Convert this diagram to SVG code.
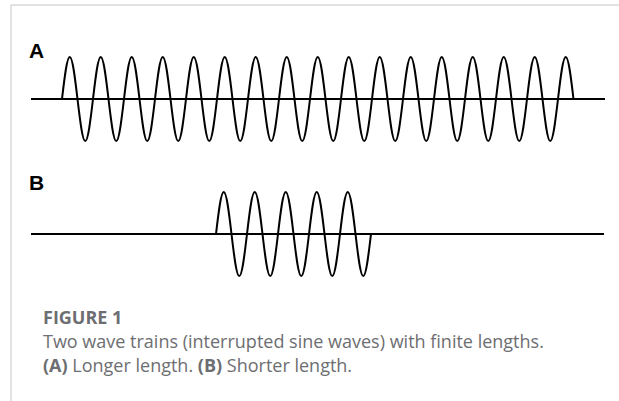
<svg xmlns="http://www.w3.org/2000/svg" width="619" height="401" viewBox="0 0 619 401">
<style>
.frame{stroke:#d9d9d9;stroke-width:1.5;fill:none}
.axis{stroke:#000;stroke-width:2;fill:none}
.wave{stroke:#000;stroke-width:2;fill:none;stroke-linejoin:round}
.lbl{font-family:"Liberation Sans",Arial,sans-serif;font-weight:bold;font-size:21px;fill:#000}
.cap{font-family:"Open Sans","Lato",sans-serif;font-size:18px;fill:#6d6e71}
.capb{font-weight:bold}
</style>
<rect width="619" height="401" fill="#fff"/>
<g id="frame">
<line class="frame" x1="11" y1="5" x2="619" y2="5"/>
<line class="frame" x1="11" y1="5" x2="11" y2="401"/>
</g>
<g id="panelA">
<text class="lbl" x="29" y="58">A</text>
<line class="axis" x1="31" y1="99" x2="605" y2="99"/>
<path class="wave" d="M62,99 c2.59,-22.05 4.96,-42 7.75,-42
s5.16,19.95 7.75,42 s4.96,42 7.75,42 s5.16,-19.95 7.75,-42 s4.96,-42 7.75,-42
s5.16,19.95 7.75,42 s4.96,42 7.75,42 s5.16,-19.95 7.75,-42 s4.96,-42 7.75,-42
s5.16,19.95 7.75,42 s4.96,42 7.75,42 s5.16,-19.95 7.75,-42 s4.96,-42 7.75,-42
s5.16,19.95 7.75,42 s4.96,42 7.75,42 s5.16,-19.95 7.75,-42 s4.96,-42 7.75,-42
s5.16,19.95 7.75,42 s4.96,42 7.75,42 s5.16,-19.95 7.75,-42 s4.96,-42 7.75,-42
s5.16,19.95 7.75,42 s4.96,42 7.75,42 s5.16,-19.95 7.75,-42 s4.96,-42 7.75,-42
s5.16,19.95 7.75,42 s4.96,42 7.75,42 s5.16,-19.95 7.75,-42 s4.96,-42 7.75,-42
s5.16,19.95 7.75,42 s4.96,42 7.75,42 s5.16,-19.95 7.75,-42 s4.96,-42 7.75,-42
s5.16,19.95 7.75,42 s4.96,42 7.75,42 s5.16,-19.95 7.75,-42 s4.96,-42 7.75,-42
s5.16,19.95 7.75,42 s4.96,42 7.75,42 s5.16,-19.95 7.75,-42 s4.96,-42 7.75,-42
s5.16,19.95 7.75,42 s4.96,42 7.75,42 s5.16,-19.95 7.75,-42 s4.96,-42 7.75,-42
s5.16,19.95 7.75,42 s4.96,42 7.75,42 s5.16,-19.95 7.75,-42 s4.96,-42 7.75,-42
s5.16,19.95 7.75,42 s4.96,42 7.75,42 s5.16,-19.95 7.75,-42 s4.96,-42 7.75,-42
s5.16,19.95 7.75,42 s4.96,42 7.75,42 s5.16,-19.95 7.75,-42 s4.96,-42 7.75,-42
s5.16,19.95 7.75,42 s4.96,42 7.75,42 s5.16,-19.95 7.75,-42 s4.96,-42 7.75,-42
s5.16,19.95 7.75,42 s4.96,42 7.75,42 s5.16,-19.95 7.75,-42 s4.96,-42 7.75,-42
s5.16,19.95 7.75,42"/>
</g>
<g id="panelB">
<text class="lbl" x="29" y="190">B</text>
<line class="axis" x1="31" y1="234" x2="604" y2="234"/>
<path class="wave" d="M216,234 c2.59,-22.05 4.96,-42 7.75,-42
s5.16,19.95 7.75,42 s4.96,42 7.75,42 s5.16,-19.95 7.75,-42 s4.96,-42 7.75,-42
s5.16,19.95 7.75,42 s4.96,42 7.75,42 s5.16,-19.95 7.75,-42 s4.96,-42 7.75,-42
s5.16,19.95 7.75,42 s4.96,42 7.75,42 s5.16,-19.95 7.75,-42 s4.96,-42 7.75,-42
s5.16,19.95 7.75,42 s4.96,42 7.75,42 s5.16,-19.95 7.75,-42 s4.96,-42 7.75,-42
s5.16,19.95 7.75,42 s4.96,42 7.75,42 s5.16,-19.95 7.75,-42"/>
</g>
<g id="caption">
<text class="cap capb" x="43" y="324">FIGURE 1</text>
<text class="cap" x="43" y="348">Two wave trains (interrupted sine waves) with finite lengths.</text>
<text class="cap" x="43" y="372"><tspan class="capb">(A)</tspan> Longer length. <tspan class="capb">(B)</tspan> Shorter length.</text>
</g>
</svg>
